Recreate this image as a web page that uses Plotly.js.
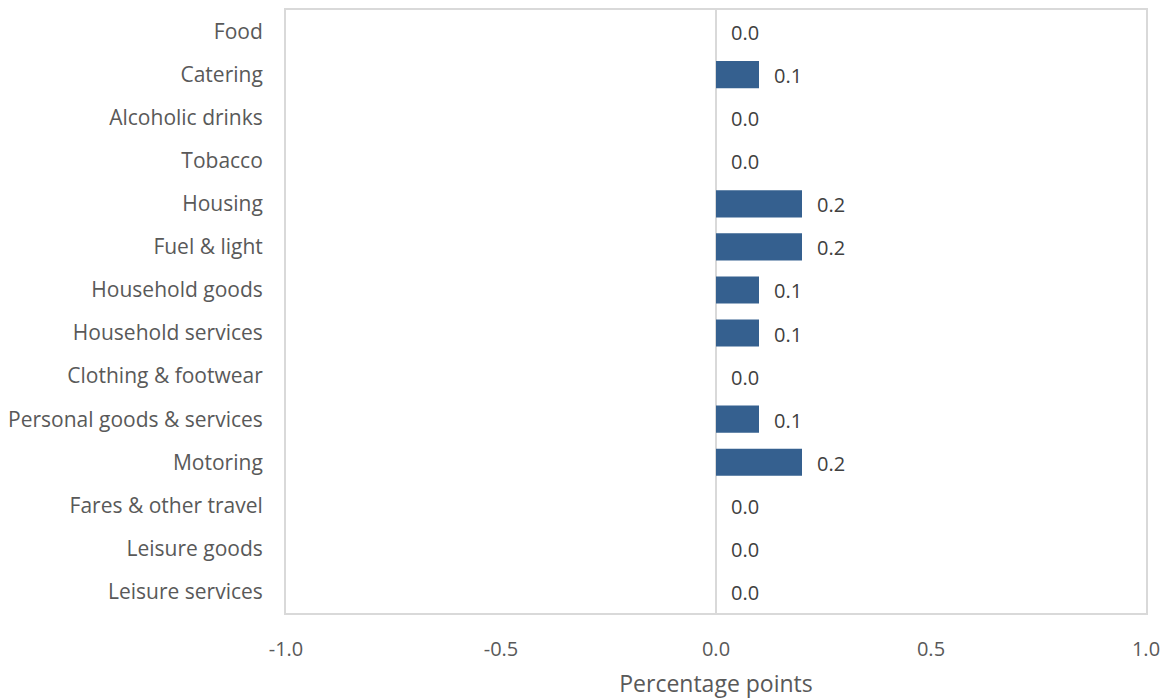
<!DOCTYPE html>
<html>
<head>
<meta charset="utf-8">
<script src="https://cdn.plot.ly/plotly-3.0.1.min.js"></script>
<style>html,body{margin:0;padding:0;background:#fff;}#chart{width:1169px;height:699px;}</style>
</head>
<body>
<div id="chart"></div>
<script>
const categories = ["Food","Catering","Alcoholic drinks","Tobacco","Housing","Fuel & light","Household goods","Household services","Clothing & footwear","Personal goods & services","Motoring","Fares & other travel","Leisure goods","Leisure services"];
const values = [0.0,0.1,0.0,0.0,0.2,0.2,0.1,0.1,0.0,0.1,0.2,0.0,0.0,0.0];
const xTickValues = [-1.0,-0.5,0.0,0.5,1.0];
const xTitle = "Percentage points";

const FONT = "'Open Sans', Lato, sans-serif";
const trace = {
  type: 'bar', orientation: 'h',
  x: values, y: categories,
  marker: {color: '#35608F'},
  hoverinfo: 'x+y'
};
const annotations = values.map((v, i) => ({
  x: Math.max(v, 0), y: categories[i], xref: 'x', yref: 'y',
  text: v.toFixed(1), showarrow: false, xanchor: 'left', yanchor: 'middle',
  xshift: 13, yshift: -1,
  font: {family: FONT, size: 20, color: '#404040'}
}));
const layout = {
  width: 1169, height: 699,
  margin: {l: 286, r: 23, t: 10, b: 86},
  paper_bgcolor: '#fff', plot_bgcolor: '#fff',
  showlegend: false,
  bargap: 0.37,
  font: {family: FONT, size: 20, color: '#595959'},
  xaxis: {
    range: [-1, 1], tickvals: xTickValues, ticktext: xTickValues.map(v => v.toFixed(1)),
    showgrid: false, zeroline: true, zerolinecolor: '#d9d9d9', zerolinewidth: 2,
    showline: true, linecolor: '#d9d9d9', linewidth: 2, mirror: true,
    ticks: 'outside', ticklen: 5, tickcolor: 'rgba(0,0,0,0)', ticklabelstandoff: 12,
    tickfont: {family: FONT, size: 20, color: '#595959'},
    title: {text: xTitle, font: {family: FONT, size: 23, color: '#595959'}, standoff: 22}
  },
  yaxis: {
    autorange: 'reversed', showgrid: false, zeroline: false,
    showline: true, linecolor: '#d9d9d9', linewidth: 2, mirror: true,
    ticks: '', ticklabelstandoff: 17,
    tickfont: {family: FONT, size: 21, color: '#595959'}
  },
  annotations: annotations
};
Plotly.newPlot('chart', [trace], layout, {displayModeBar: false, staticPlot: true});
</script>
</body>
</html>
